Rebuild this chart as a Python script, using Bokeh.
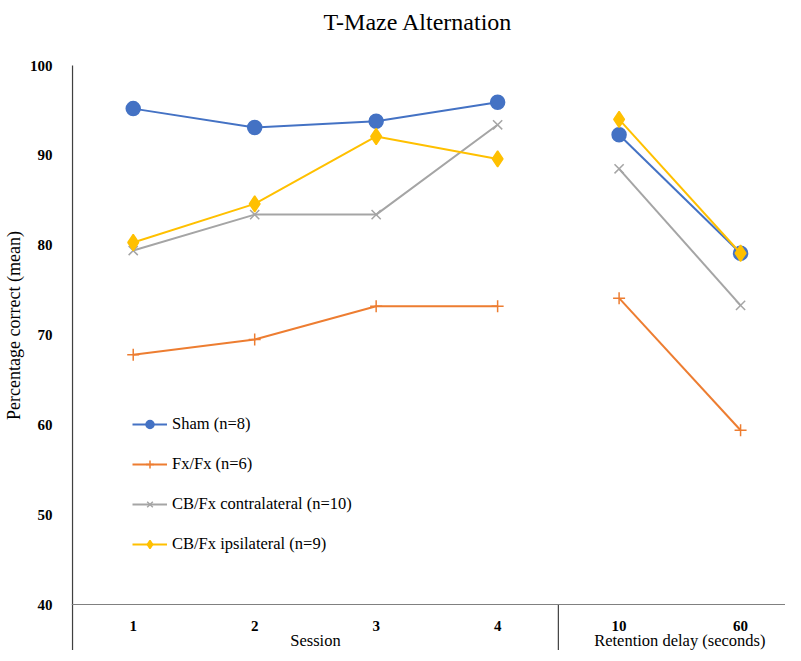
import numpy as np
from bokeh.plotting import figure
from bokeh.models import Range1d, FixedTicker, Span, Legend, LegendItem, ColumnDataSource
from bokeh.core.properties import value
from bokeh.embed import file_html
from bokeh.resources import INLINE

# ---- data ----
title_text = "T-Maze Alternation"
sessions = ["1", "2", "3", "4"]
delays = ["10", "60"]
group_labels = ["Session", "Retention delay (seconds)"]
y_ticks = [40, 50, 60, 70, 80, 90, 100]

sham_session = [95.2, 93.1, 93.8, 95.9]
sham_delay = [92.3, 79.1]
fx_session = [67.8, 69.5, 73.2, 73.2]
fx_delay = [74.1, 59.4]
contra_session = [79.4, 83.4, 83.4, 93.4]
contra_delay = [88.5, 73.3]
ipsi_session = [80.3, 84.6, 92.1, 89.6]
ipsi_delay = [94.0, 79.1]

series_names = ["Sham (n=8)", "Fx/Fx (n=6)", "CB/Fx contralateral (n=10)", "CB/Fx ipsilateral (n=9)"]
series_session = [sham_session, fx_session, contra_session, ipsi_session]
series_delay = [sham_delay, fx_delay, contra_delay, ipsi_delay]
colors = ["#4472C4", "#ED7D31", "#A5A5A5", "#FFC000"]
markers = ["circle", "cross", "x", "diamond"]
msizes = [14, 12, 13, 16]

# ---- layout (pixels inside the figure) ----
W, H = 785, 650
left = 62
cat_w = 123.0
y100_px = 65.0
px_per_unit = 539 / 60.0
y_top = 100 + y100_px / px_per_unit
y40_px = y100_px + 60 * px_per_unit
y_bottom = 40 - (H - y40_px) / px_per_unit
x_start = -1 / cat_w
x_end = x_start + (W - left) / cat_w

FONT = "Liberation Serif"

p = figure(width=W, height=H, output_backend="svg", toolbar_location=None,
           x_range=Range1d(x_start, x_end), y_range=Range1d(y_bottom, y_top),
           min_border_left=left, min_border_top=0, min_border_right=0, min_border_bottom=0)
p.outline_line_color = None
p.xgrid.visible = False
p.ygrid.visible = False
p.xaxis.visible = False

yax = p.yaxis[0]
yax.ticker = FixedTicker(ticks=y_ticks)
yax.major_tick_line_color = None
yax.minor_tick_line_color = None
yax.axis_line_color = None
yax.major_label_text_font = FONT
yax.major_label_text_font_size = "15px"
yax.major_label_text_font_style = "bold"
yax.major_label_text_color = "black"
yax.major_label_standoff = 13
yax.axis_label = "Percentage correct (mean)"
yax.axis_label_text_font = FONT
yax.axis_label_text_font_size = "18px"
yax.axis_label_text_font_style = "normal"
yax.axis_label_text_color = "black"
yax.axis_label_standoff = 3

n_s = len(sessions)
# y axis line (from bottom of chart to 100), x base line, separator
p.segment(x0=[0], y0=[y_bottom], x1=[0], y1=[100], line_color="#404040", line_width=1.3)
p.add_layout(Span(location=40, dimension="width", line_color="#808080", line_width=1.2))
p.segment(x0=[n_s], y0=[y_bottom], x1=[n_s], y1=[40], line_color="#404040", line_width=1.2)

# title
n_all = n_s + len(delays)
p.text(x=[(413 - left) / cat_w + x_start], y=[100 + (y100_px - 21) / px_per_unit], text=[title_text],
       text_align="center", text_baseline="middle",
       text_font=value(FONT), text_font_size="24px", text_color="black")

xs_session = np.arange(len(sessions)) + 0.5
xs_delay = np.arange(len(delays)) + 0.5 + n_s

# category labels
cat_src = ColumnDataSource(dict(x=list(xs_session) + list(xs_delay),
                                y=[40 - 21 / px_per_unit] * n_all,
                                t=sessions + delays))
p.text(x="x", y="y", text="t", source=cat_src, text_align="center", text_baseline="middle",
       text_font=value(FONT), text_font_size="15px", text_font_style="bold", text_color="black")
grp_src = ColumnDataSource(dict(x=[n_s / 2.0, n_s + len(delays) / 2.0],
                                y=[y_bottom + 0.5 / px_per_unit] * 2, t=group_labels))
p.text(x="x", y="y", text="t", source=grp_src, text_align="center", text_baseline="bottom",
       text_font=value(FONT), text_font_size="16.5px", text_color="black")

items = []
for name, ys_s, ys_d, c, m, ms in zip(series_names, series_session, series_delay, colors, markers, msizes):
    l1 = p.line(xs_session, ys_s, line_color=c, line_width=2)
    s1 = p.scatter(xs_session, ys_s, marker=m, size=ms, fill_color=c, line_color=c, line_width=1.5)
    p.line(xs_delay, ys_d, line_color=c, line_width=2)
    p.scatter(xs_delay, ys_d, marker=m, size=ms, fill_color=c, line_color=c, line_width=1.5)
    items.append(LegendItem(label=name, renderers=[l1, s1]))

legend = Legend(items=items, location=(61, 96), orientation="vertical",
                glyph_width=35, glyph_height=20, label_height=20, label_standoff=5,
                spacing=20, padding=0, margin=0,
                border_line_color=None, background_fill_alpha=0,
                label_text_font=FONT, label_text_font_size="16.5px", label_text_color="black")
p.add_layout(legend, "center")

open("out.html", "w").write(file_html(p, INLINE))
